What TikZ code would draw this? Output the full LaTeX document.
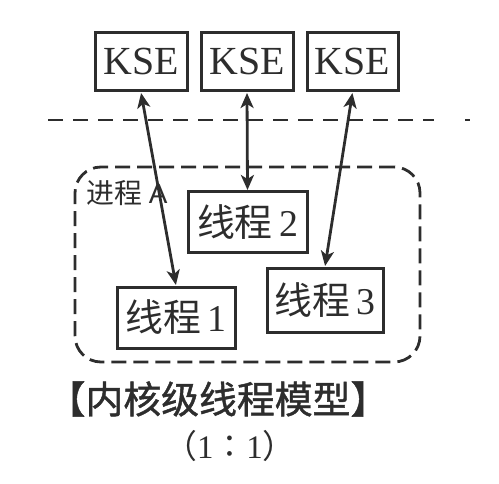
\documentclass[tikz,border=0pt]{standalone}
\usepackage{fontspec}
\setmainfont{Liberation Serif}
\newfontfamily\cjk{Noto Sans CJK SC}
\newfontfamily\cjkcap[FakeBold=1.2]{Noto Sans CJK SC}
\newfontfamily\sanslat{Liberation Sans}
\usetikzlibrary{arrows.meta}
\definecolor{ink}{RGB}{45,45,45}
\begin{document}
\begin{tikzpicture}[x=1bp,y=-1bp, color=ink,
  ksebox/.style={draw, line width=3bp, inner sep=0pt, minimum width=92bp, minimum height=58bp,
     font=\fontsize{40}{40}\selectfont},
  thbox/.style={draw, line width=3bp, inner sep=0pt, minimum height=60bp,
     font=\fontsize{38}{38}\selectfont},
  link/.style={line width=2.8bp, {Stealth[length=15bp,width=13bp,inset=4bp]}-{Stealth[length=15bp,width=13bp,inset=4bp]}, shorten <=0.5bp, shorten >=0.5bp},
  sep/.style={line width=2.6bp, dash pattern=on 15bp off 10bp},
  proc/.style={draw, line width=2.8bp, dash pattern=on 15bp off 7bp, rounded corners=26bp, inner sep=0pt}
]
\useasboundingbox (0,0) rectangle (499,484);

% kernel scheduling entities
\node[ksebox] (k1) at (141,62) {KSE};
\node[ksebox] (k2) at (247,62) {KSE};
\node[ksebox, minimum width=91bp] (k3) at (352.5,62) {KSE};

% user / kernel separator
\coordinate (sl) at (48,120);
\coordinate (sr) at (434,120);
\coordinate (dl) at (465,120);
\coordinate (dr) at (470,120);
\draw[sep] (sl) -- (sr);
\draw[line width=2.6bp] (dl) -- (dr);

% process
\node[proc, minimum width=345bp, minimum height=195bp] (pa) at (247.5,264.5) {};
\node[anchor=west, inner sep=0pt, font=\fontsize{28}{28}\selectfont] (pl) at (86,193) {{\cjk 进程} {\sanslat A}};

% threads
\node[thbox, minimum width=119bp] (t2) at (247.5,222) {{\cjk 线程}\,2};
\node[thbox, minimum width=118bp, minimum height=61bp] (t1) at (176,317.5) {{\cjk 线程}\,1};
\node[thbox, minimum width=116bp, minimum height=64bp] (t3) at (325,300) {{\cjk 线程}\,3};

% links
\draw[link] (k1.south) -- (t1.north);
\draw[link] (k2.south) -- (t2.north);
\draw[link] (k3.south) -- (t3.north);

% caption
\node[inner sep=0pt, font=\fontsize{38}{38}\selectfont\cjkcap] (cap) at (218,399) {【内核级线程模型】};
\node[inner sep=0pt, font=\fontsize{33}{33}\selectfont] (ratio) at (230,446) {{\cjk （}1{\cjk ∶}1{\cjk ）}};
\end{tikzpicture}
\end{document}
